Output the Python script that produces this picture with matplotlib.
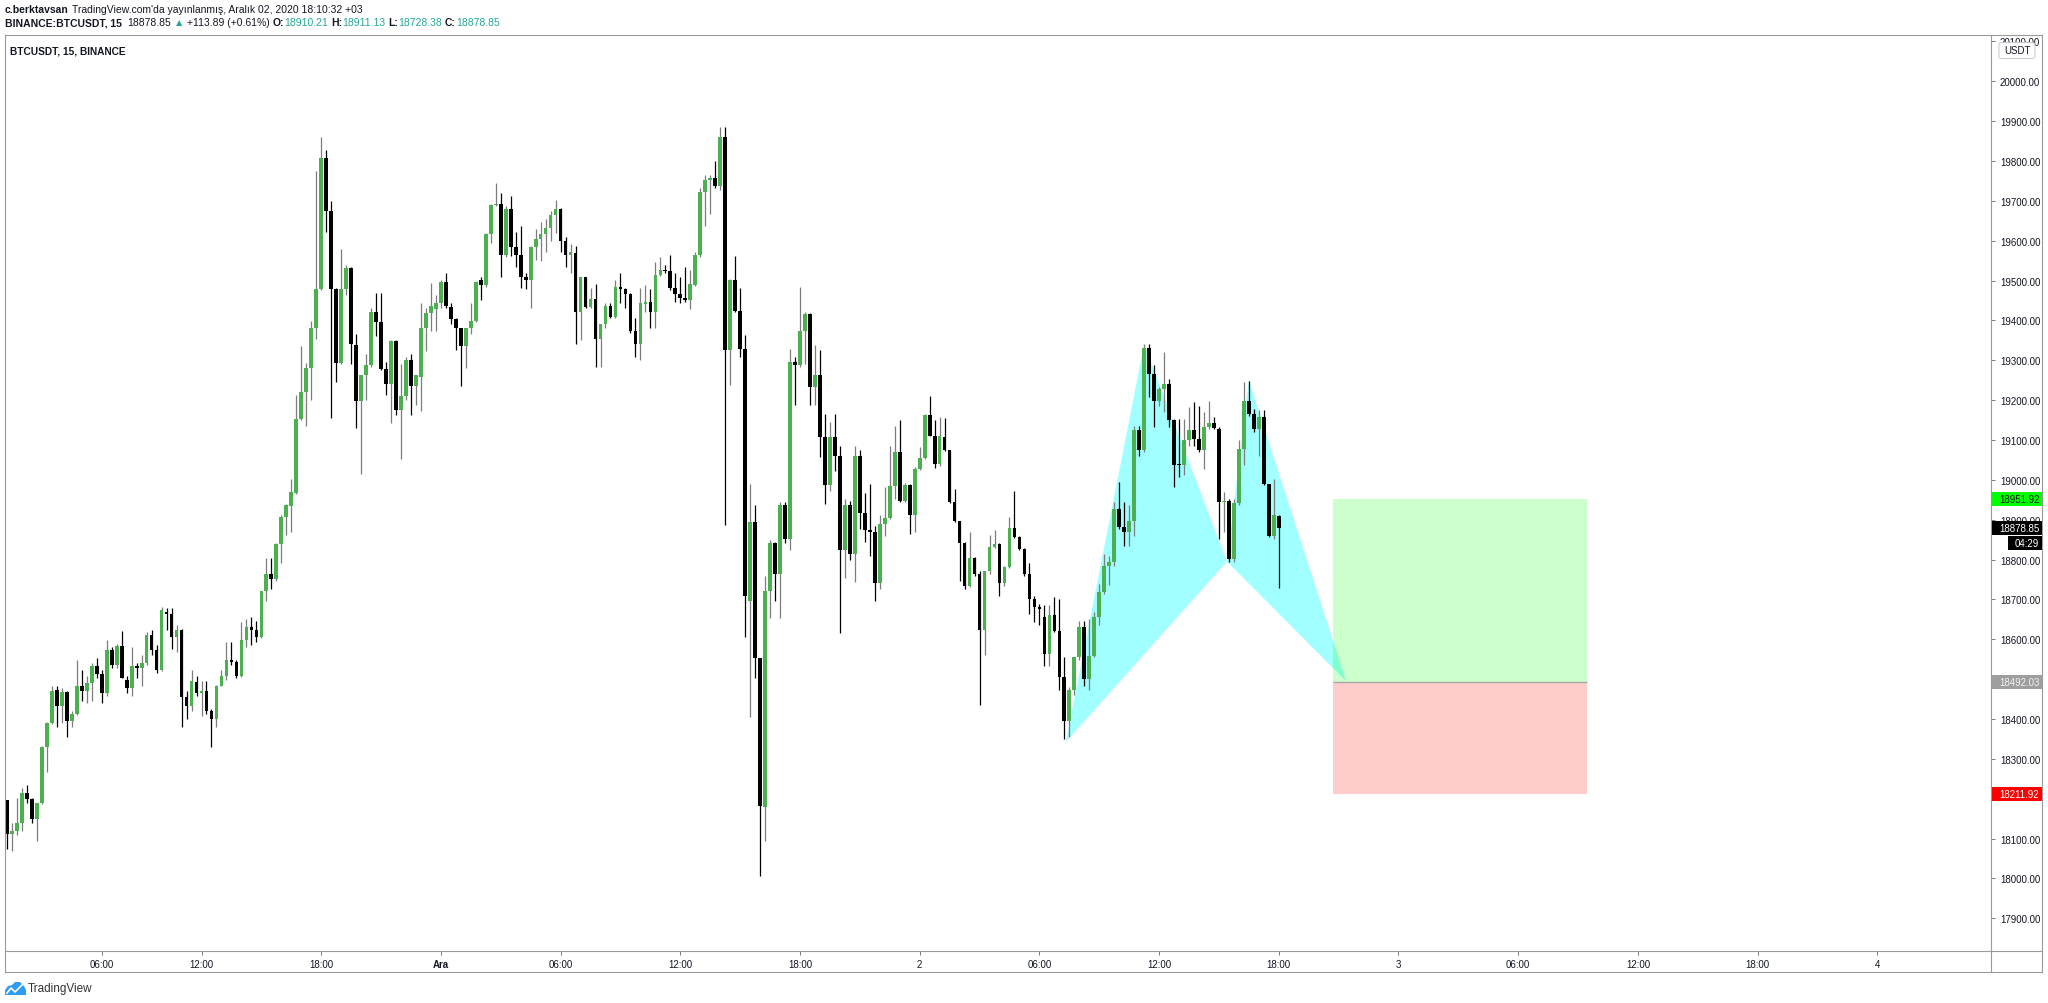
import numpy as np
import matplotlib
matplotlib.use("Agg")
import matplotlib.pyplot as plt
import matplotlib.transforms as mtransforms
from matplotlib.patches import Polygon, Rectangle, FancyBboxPatch
from matplotlib.lines import Line2D

plt.rcParams['font.family'] = ['Liberation Sans', 'DejaVu Sans']

W, H = 2048, 1004

# 15 minute bars, bar 0 = 2 Dec 2020 00:00
first_bar = -183

opens = np.array([
    18196, 18112, 18118, 18138, 18215, 18199, 18148, 18189, 18330, 18391,
    18473, 18432, 18468, 18394, 18413, 18484, 18471, 18490, 18532, 18512,
    18464, 18573, 18535, 18583, 18499, 18477, 18532, 18528, 18541, 18612,
    18573, 18522, 18669, 18663, 18605, 18624, 18456, 18432, 18494, 18464,
    18471, 18420, 18400, 18484, 18509, 18548, 18544, 18507, 18599, 18631,
    18624, 18605, 18720, 18763, 18750, 18839, 18906, 18934, 18967, 19152,
    19220, 19280, 19382, 19479, 19808, 19674, 19479, 19293, 19479, 19531,
    19339, 19198, 19262, 19287, 19421, 19395, 19277, 19241, 19348, 19175,
    19211, 19300, 19236, 19258, 19380, 19418, 19428, 19444, 19497, 19433,
    19403, 19380, 19335, 19380, 19399, 19501, 19488, 19616, 19689, 19693,
    19565, 19680, 19584, 19565,
    19508, 19501, 19584, 19604, 19616, 19633, 19664, 19680, 19600, 19565,
    19569, 19421, 19508, 19433, 19454, 19354, 19390, 19437, 19408, 19485,
    19480, 19467, 19373, 19341, 19441, 19446, 19421, 19514, 19527, 19523,
    19482, 19467, 19456, 19450, 19488, 19565, 19723, 19753, 19757, 19738,
    19860, 19326, 19501, 19424, 19328, 18695, 18893, 18554, 18179, 18720,
    18842, 18763, 18938, 18852, 19296, 19287, 19373, 19415, 19232,
    19262, 19107, 18987, 19107, 19059, 18823, 18936, 18814, 19059, 18917,
    18875, 18870, 18742, 18890, 18904, 18984, 19071, 18946, 18987, 18911,
    19026, 19054, 19163, 19111, 19040, 19108, 19075, 18944, 18896, 18842,
    18733, 18804, 18765, 18624, 18772, 18832, 18839, 18740, 18781, 18880,
    18857, 18827, 18763, 18701, 18682,
    18656, 18564, 18660, 18622, 18505, 18396, 18472, 18555, 18631, 18501,
    18559, 18656, 18718, 18785, 18794, 18927, 18881, 18869, 18898, 19124,
    19074, 19330, 19266, 19197, 19227, 19241, 19151, 19038, 19038, 19099,
    19126, 19103, 19074, 19132, 19143, 19128, 18944, 18948, 18802, 18942,
    19078, 19199, 19166, 19128, 19157, 18990, 18860, 18910.21,
])

highs = np.array([
    18196, 18138, 18202, 18228, 18234, 18202, 18190, 18332, 18393, 18484,
    18484, 18477, 18471, 18420, 18548, 18522, 18509, 18541, 18554, 18522,
    18599, 18580, 18589, 18622, 18509, 18580, 18541, 18560, 18618, 18624,
    18586, 18682, 18678, 18678, 18637, 18626, 18471, 18522, 18509, 18496,
    18496, 18426, 18486, 18522, 18592, 18592, 18548, 18644, 18650, 18656,
    18647, 18722, 18804, 18804, 18842, 18912, 18940, 19002, 19213, 19335,
    19293, 19399, 19776, 19860, 19828, 19700, 19482, 19578, 19540, 19533,
    19367, 19264, 19316, 19431, 19469, 19469, 19296, 19350, 19350, 19290,
    19309, 19316, 19264, 19444, 19431, 19495, 19463, 19501, 19520, 19444,
    19405, 19382, 19380, 19444, 19499, 19508, 19620, 19693, 19744, 19719,
    19687, 19712, 19623, 19636,
    19520, 19586, 19629, 19648, 19655, 19674, 19702, 19681, 19610, 19591,
    19587, 19510, 19510, 19482, 19492, 19392, 19444, 19444, 19501, 19520,
    19482, 19469, 19405, 19482, 19488, 19480, 19546, 19559, 19540, 19565,
    19520, 19508, 19533, 19527, 19572, 19732, 19764, 19766, 19799, 19885,
    19885, 19503, 19561, 19482, 19364, 18989, 18938, 18554, 18759, 18848,
    18845, 18944, 18944, 19328, 19309, 19485, 19421, 19418, 19339,
    19326, 19166, 19145, 19166, 19086, 18952, 18946, 19084, 19074, 18967,
    18990, 18885, 18912, 18982, 19086, 19136, 19151, 18992, 18990, 19032,
    19082, 19164, 19211, 19151, 19157, 19156, 19075, 18976, 18896, 18845,
    18870, 18806, 18772, 18772, 18861, 18874, 18842, 18784, 18906, 18972,
    18858, 18829, 18791, 18708, 18688,
    18685, 18685, 18706, 18702, 18555, 18480, 18555, 18647, 18647, 18651,
    18668, 18739, 18814, 18810, 18944, 18994, 18944, 18936, 19136, 19136,
    19341, 19341, 19287, 19232, 19320, 19253, 19153, 19153, 19153, 19182,
    19195, 19186, 19170, 19199, 19157, 19132, 18969, 18952, 18952, 19099,
    19245, 19249, 19178, 19174, 19174, 18990, 19003, 18911.13,
])

lows = np.array([
    18074, 18068, 18110, 18119, 18189, 18138, 18093, 18186, 18266, 18388,
    18381, 18391, 18356, 18381, 18410, 18445, 18439, 18445, 18503, 18439,
    18458, 18528, 18528, 18503, 18464, 18458, 18503, 18484, 18535, 18560,
    18516, 18520, 18624, 18576, 18567, 18381, 18400, 18420, 18458, 18407,
    18413, 18330, 18381, 18482, 18497, 18535, 18503, 18505, 18580, 18586,
    18592, 18603, 18695, 18727, 18746, 18791, 18861, 18868, 18964, 19149,
    19136, 19200, 19354, 19476, 19623, 19156, 19245, 19290, 19463, 19290,
    19130, 19015, 19200, 19284, 19360, 19275, 19213, 19143, 19162, 19053,
    19200, 19162, 19188, 19172, 19322, 19373, 19373, 19431, 19431, 19392,
    19326, 19236, 19280, 19367, 19397, 19450, 19485, 19595, 19687, 19508,
    19559, 19561, 19533, 19482,
    19480, 19431, 19552, 19549, 19572, 19600, 19620, 19572, 19533, 19520,
    19341, 19352, 19431, 19431, 19284, 19284, 19380, 19405, 19405, 19444,
    19431, 19369, 19309, 19300, 19421, 19382, 19380, 19512, 19520, 19476,
    19446, 19444, 19446, 19428, 19486, 19559, 19636, 19668, 19732, 19728,
    18887, 19239, 19421, 19309, 18605, 18404, 18503, 18007, 18093, 18653,
    18695, 18653, 18842, 18823, 19188, 19284, 19290, 19188, 19188,
    19057, 18940, 18973, 19021, 18616, 18753, 18798, 18743, 18877, 18844,
    18810, 18697, 18725, 18860, 18902, 18952, 18944, 18944, 18865, 18870,
    19024, 19053, 19110, 19029, 19034, 19072, 18942, 18893, 18746, 18727,
    18731, 18759, 18435, 18560, 18765, 18830, 18708, 18733, 18778, 18855,
    18823, 18759, 18663, 18644, 18637,
    18534, 18534, 18618, 18472, 18350, 18355, 18459, 18547, 18484, 18472,
    18555, 18635, 18714, 18737, 18785, 18877, 18835, 18835, 18860, 19061,
    19070, 19207, 19132, 19186, 19170, 19132, 18982, 19007, 19011, 19086,
    19086, 19069, 19028, 19128, 19128, 18852, 18869, 18794, 18795, 18936,
    19036, 19161, 19120, 19061, 18986, 18856, 18852, 18728.38,
])

closes = np.array([
    18112, 18118, 18138, 18215, 18199, 18148, 18189, 18330, 18391, 18471,
    18432, 18468, 18394, 18413, 18484, 18471, 18490, 18532, 18512, 18464,
    18573, 18535, 18583, 18503, 18477, 18532, 18528, 18541, 18612, 18573,
    18522, 18673, 18663, 18605, 18624, 18456, 18432, 18496, 18464, 18471,
    18420, 18400, 18484, 18509, 18548, 18544, 18507, 18599, 18631, 18624,
    18605, 18720, 18763, 18752, 18839, 18906, 18938, 18970, 19152, 19220,
    19280, 19382, 19479, 19808, 19674, 19479, 19293, 19479, 19531, 19341,
    19198, 19262, 19287, 19421, 19395, 19277, 19241, 19348, 19175, 19211,
    19300, 19236, 19262, 19380, 19418, 19437, 19444, 19497, 19437, 19403,
    19382, 19335, 19380, 19399, 19497, 19488, 19616, 19689, 19693, 19565,
    19680, 19584, 19565, 19508,
    19501, 19584, 19604, 19616, 19633, 19664, 19680, 19600, 19565, 19572,
    19421, 19508, 19433, 19454, 19354, 19390, 19437, 19408, 19485, 19480,
    19467, 19373, 19341, 19444, 19446, 19421, 19514, 19527, 19523, 19482,
    19467, 19456, 19450, 19492, 19565, 19723, 19753, 19757, 19738, 19860,
    19326, 19501, 19424, 19328, 18708, 18893, 18554, 18183, 18720, 18842,
    18763, 18938, 18852, 19296, 19287, 19373, 19415, 19232, 19262,
    19107, 18987, 19107, 19059, 18823, 18936, 18814, 19059, 18917, 18875,
    18870, 18742, 18890, 18904, 18984, 19071, 18946, 18987, 18911, 19026,
    19054, 19163, 19111, 19040, 19111, 19075, 18944, 18896, 18842, 18733,
    18804, 18765, 18624, 18772, 18832, 18839, 18740, 18781, 18880, 18857,
    18827, 18763, 18701, 18682, 18676,
    18564, 18660, 18622, 18505, 18396, 18472, 18555, 18631, 18501, 18559,
    18656, 18718, 18785, 18794, 18927, 18881, 18869, 18898, 19124, 19074,
    19330, 19266, 19197, 19227, 19241, 19151, 19036, 19036, 19099, 19126,
    19103, 19074, 19132, 19143, 19130, 18944, 18948, 18802, 18942, 19078,
    19199, 19166, 19128, 19157, 18990, 18860, 18912, 18878.85,
])

tick_bars = [-164, -144, -120, -96, -72, -48, -24, 0, 24, 48, 72, 96, 120, 144, 168, 192]
tick_labels = ['06:00', '12:00', '18:00', 'Ara', '06:00', '12:00', '18:00', '2',
               '06:00', '12:00', '18:00', '3', '06:00', '12:00', '18:00', '4']
price_ticks = np.arange(17900, 20101, 100)
hidden_ticks = [18200, 18500]   # covered by the stop / entry tags

# XABCD pattern points (bar, price)
xabcd_bars = [29.3, 45, 61.6, 66, 85.5]
xabcd_prices = [18342, 19340, 18795, 19250, 18495]

# long position tool
pos_left, pos_right = 82.8, 133.7
entry_price, target_price, stop_price = 18492.03, 18951.92, 18211.92
last_close = 18878.85
countdown = '04:29'

# pixel layout
LEFT, RIGHT, TOP, BOTTOM = 5, 1991, 36, 952
OUT_RIGHT, OUT_BOTTOM = 2042, 973
DARK = '#131722'
TEAL = '#26a69a'
FRAME = '#9a9a9a'
AXIS_FS = 7.0
HEAD_FS = 7.5


def fx(px):
    return px / W


def fy(py):
    return 1 - py / H


fig = plt.figure(figsize=(W / 100, H / 100), dpi=100)
ax = fig.add_axes([fx(LEFT), fy(BOTTOM), fx(RIGHT) - fx(LEFT), fy(TOP) - fy(BOTTOM)])
ax.set_xlim(-183.4, 214.8)
ax.set_ylim(17818, 20116)
for sp in ax.spines.values():
    sp.set_visible(False)

# candles
bars = first_bar + np.arange(len(opens))
up = closes >= opens
ax.vlines(bars[up], lows[up], highs[up], color='#7d7d7d', lw=0.9, zorder=2)
ax.vlines(bars[~up], lows[~up], highs[~up], color='#000000', lw=0.9, zorder=2)
body_lo = np.minimum(opens, closes)
body_h = np.maximum(np.abs(closes - opens), 3)
ax.bar(bars[up], body_h[up], bottom=body_lo[up], width=0.74, color='#4caf50', lw=0, zorder=3)
ax.bar(bars[~up], body_h[~up], bottom=body_lo[~up], width=0.74, color='#000000', lw=0, zorder=3)

# harmonic pattern
pts = list(zip(xabcd_bars, xabcd_prices))
for tri in (pts[0:3], pts[2:5]):
    ax.add_patch(Polygon(tri, closed=True, fc='#00ffff', alpha=0.37, lw=0, zorder=1))

# long position boxes
ax.add_patch(Rectangle((pos_left, entry_price), pos_right - pos_left, target_price - entry_price,
                       fc='#00ff00', alpha=0.2, lw=0, zorder=4))
ax.add_patch(Rectangle((pos_left, stop_price), pos_right - pos_left, entry_price - stop_price,
                       fc='#ff0000', alpha=0.2, lw=0, zorder=4))
ax.hlines(entry_price, pos_left, pos_right, color='#a8a8a8', lw=1.0, zorder=5)

# axes ticks
ax.yaxis.tick_right()
ax.set_yticks(price_ticks, ['' if p in hidden_ticks else f'{p:.2f}' for p in price_ticks])
ax.tick_params(axis='y', length=3, width=0.7, color='#777777', pad=3.5,
               labelsize=AXIS_FS, labelcolor=DARK)
ax.set_xticks(tick_bars, tick_labels)
ax.tick_params(axis='x', length=3, width=0.7, color='#777777', pad=2.5,
               labelsize=AXIS_FS, labelcolor=DARK)
ax.get_xticklabels()[3].set_fontweight('bold')

# frame lines
frame = [((LEFT, OUT_RIGHT), (TOP, TOP)), ((LEFT, OUT_RIGHT), (BOTTOM, BOTTOM)),
         ((LEFT, OUT_RIGHT), (OUT_BOTTOM, OUT_BOTTOM)), ((LEFT, LEFT), (TOP, OUT_BOTTOM)),
         ((RIGHT, RIGHT), (TOP, OUT_BOTTOM)), ((OUT_RIGHT, OUT_RIGHT), (TOP, OUT_BOTTOM))]
for xs, ys in frame:
    fig.add_artist(Line2D([fx(v) for v in xs], [fy(v) for v in ys], transform=fig.transFigure,
                          color=FRAME, lw=0.8))

# price tags on the scale
blend = mtransforms.blended_transform_factory(fig.transFigure, ax.transData)
px_per_unit = (BOTTOM - TOP) / (20116 - 17818)
half_h = 7 / px_per_unit


def price_tag(price, text, bg, fg, x0=1992, dy=0, ha='left'):
    tr = mtransforms.offset_copy(blend, fig=fig, x=0, y=dy, units='dots')
    r = Rectangle((fx(x0), price - half_h), fx(OUT_RIGHT) - fx(x0), 2 * half_h,
                  transform=tr, fc=bg, ec='none', zorder=10)
    fig.add_artist(r)
    tx = fx(1999) if ha == 'left' else fx(OUT_RIGHT - 3)
    fig.text(tx, price, text, transform=tr, ha=ha, va='center', fontsize=AXIS_FS,
             color=fg, zorder=11)


price_tag(target_price, f'{target_price:.2f}', '#00ff00', '#1b1b1b')
price_tag(last_close, f'{last_close:.2f}', '#000000', '#ffffff')
price_tag(last_close, countdown, '#000000', '#ffffff', x0=2008, dy=-15, ha='right')
price_tag(entry_price, f'{entry_price:.2f}', '#9e9e9e', '#f2f2f2')
price_tag(stop_price, f'{stop_price:.2f}', '#ff0000', '#ffffff')

# USDT currency badge
fig.add_artist(FancyBboxPatch((fx(2000), fy(59)), fx(2034) - fx(2000), fy(44) - fy(59),
                              boxstyle='round,pad=0.0005,rounding_size=0.002',
                              transform=fig.transFigure, fc='white', ec='#c8c8c8', lw=0.7, zorder=12))
fig.text(fx(2017), fy(51.5), 'USDT', ha='center', va='center', fontsize=AXIS_FS, color=DARK, zorder=13)

# header lines built from styled runs
renderer = fig.canvas.get_renderer()


def text_width(s, **kw):
    t = fig.text(0, 0, s, **kw)
    w = t.get_window_extent(renderer=renderer).width
    t.remove()
    return w


SPACE = text_width('a a', fontsize=HEAD_FS) - text_width('aa', fontsize=HEAD_FS)


def put_runs(x, y, parts, size=HEAD_FS):
    for s, weight, color, gap in parts:
        t = fig.text(fx(x), fy(y), s, fontsize=size, fontweight=weight, color=color,
                     ha='left', va='center')
        x += t.get_window_extent(renderer=renderer).width + gap * SPACE


put_runs(5, 10, [('c.berktavsan', 'bold', DARK, 1),
                 ("TradingView.com'da yayınlanmış, Aralık 02, 2020 18:10:32 +03", 'normal', DARK, 0)])
put_runs(5, 23, [('BINANCE:BTCUSDT, 15', 'bold', DARK, 2),
                 ('18878.85', 'normal', DARK, 1),
                 ('▲', 'normal', TEAL, 1),
                 ('+113.89 (+0.61%)', 'normal', DARK, 1),
                 ('O:', 'bold', DARK, 0), ('18910.21', 'normal', TEAL, 1),
                 ('H:', 'bold', DARK, 0), ('18911.13', 'normal', TEAL, 1),
                 ('L:', 'bold', DARK, 0), ('18728.38', 'normal', TEAL, 1),
                 ('C:', 'bold', DARK, 0), ('18878.85', 'normal', TEAL, 0)])
fig.text(fx(10), fy(51), 'BTCUSDT, 15, BINANCE', fontsize=7.3, fontweight='bold',
         color=DARK, ha='left', va='center')

# TradingView logo
cloud = [(5, 996), (5, 991), (8, 987), (12, 986), (15, 983), (20, 983), (24, 987), (26, 991), (26, 996)]
fig.add_artist(Polygon([(fx(a), fy(b)) for a, b in cloud], closed=True, transform=fig.transFigure,
                       fc='#2e9cf0', ec='none'))
zig = [(7, 994), (11, 989), (15, 993), (22, 986)]
fig.add_artist(Line2D([fx(a) for a, b in zig], [fy(b) for a, b in zig], transform=fig.transFigure,
                      color='white', lw=1.2))
fig.text(fx(28), fy(989.5), 'TradingView', fontsize=8.5, color='#333333', ha='left', va='center')

fig.savefig('out.png', dpi=100, facecolor='white')
